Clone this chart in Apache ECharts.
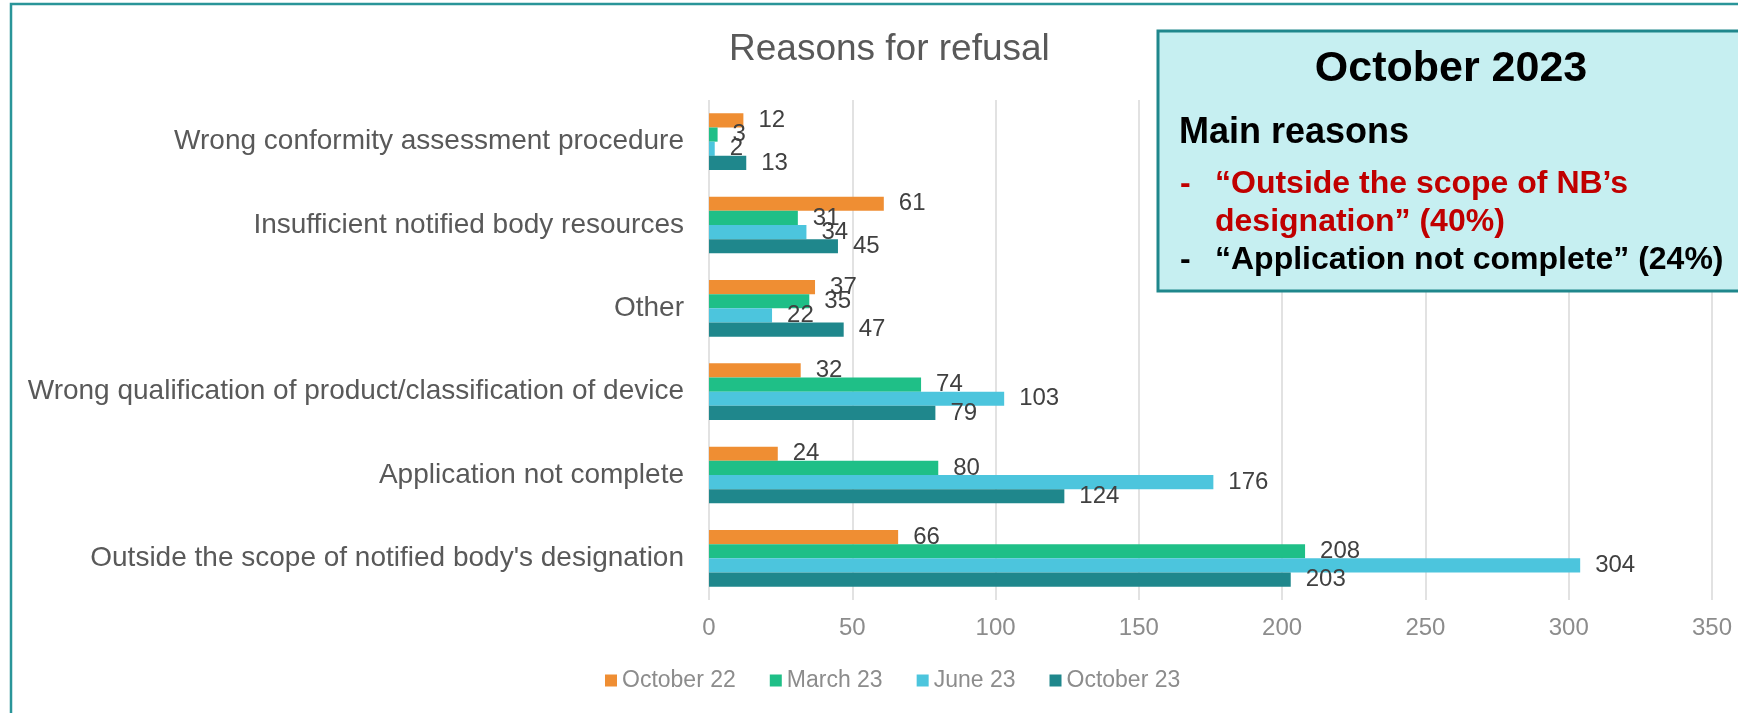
<!DOCTYPE html>
<html>
<head>
<meta charset="utf-8">
<title>Reasons for refusal</title>
<script src="https://cdn.jsdelivr.net/npm/echarts@6/dist/echarts.min.js"></script>
<style>
  html, body { margin: 0; padding: 0; background: #fff; }
  #chart { width: 1738px; height: 713px; }
</style>
</head>
<body>
<div id="chart"></div>
<script>
// categories, bottom to top (as the y axis draws them)
const categories = [
  "Outside the scope of notified body's designation",
  'Application not complete',
  'Wrong qualification of product/classification of device',
  'Other',
  'Insufficient notified body resources',
  'Wrong conformity assessment procedure'
]

const seriesNames = ['October 22', 'March 23', 'June 23', 'October 23']
const seriesColors = ['#EF8E33', '#1FBF87', '#4CC5DD', '#1F878C']

// values in the same order as categories
const oct22 = [66, 24, 32, 37, 61, 12]
const mar23 = [208, 80, 74, 35, 31, 3]
const jun23 = [304, 176, 103, 22, 34, 2]
const oct23 = [203, 124, 79, 47, 45, 13]

const xTicks = { min: 0, max: 350, interval: 50 }

const boxTitle = 'October 2023'
const boxHeading = 'Main reasons'
const boxLines = [
  { text: '\u201COutside the scope of NB\u2019s', dash: true, color: '#C00000' },
  { text: 'designation\u201D (40%)', dash: false, color: '#C00000' },
  { text: '\u201CApplication not complete\u201D (24%)', dash: true, color: '#000000' }
]

const chart = echarts.init(document.getElementById('chart'))
const font = 'Liberation Sans, Arial, sans-serif'

const makeSeries = (name, data, color) => ({
  name: name,
  type: 'bar',
  data: data,
  barGap: 0,
  barCategoryGap: '32%',
  itemStyle: { color: color },
  label: {
    show: true,
    position: 'right',
    distance: 15,
    color: '#404040',
    fontSize: 24,
    fontFamily: font
  }
})

const allValues = [oct22, mar23, jun23, oct23]
const series = seriesNames.map((n, i) => makeSeries(n, allValues[i], seriesColors[i]))

// annotation box drawn on top
const lineY = [184, 222, 260]
const boxTexts = []
boxLines.forEach((l, i) => {
  if (l.dash) {
    boxTexts.push({
      type: 'text', z: 101,
      style: { text: '-', x: 1180, y: lineY[i], fill: l.color, font: 'bold 32px ' + font, verticalAlign: 'middle' }
    })
  }
  boxTexts.push({
    type: 'text', z: 101,
    style: { text: l.text, x: 1215, y: lineY[i], fill: l.color, font: 'bold 32px ' + font, verticalAlign: 'middle' }
  })
})

const option = {
  animation: false,
  backgroundColor: '#fff',
  textStyle: { fontFamily: font },
  title: {
    text: 'Reasons for refusal',
    left: 724,
    top: 26,
    textStyle: { color: '#595959', fontSize: 37, fontWeight: 'normal', fontFamily: font }
  },
  legend: {
    data: seriesNames,
    left: 600,
    top: 664,
    itemWidth: 12,
    itemHeight: 12,
    itemGap: 34,
    icon: 'rect',
    textStyle: { color: '#8C8C8C', fontSize: 23, fontFamily: font }
  },
  grid: { left: 709, right: 26, top: 100, bottom: 113, containLabel: false },
  xAxis: {
    type: 'value',
    min: xTicks.min,
    max: xTicks.max,
    interval: xTicks.interval,
    axisLine: { show: false },
    axisTick: { show: false },
    splitLine: { lineStyle: { color: '#D9D9D9', width: 1.5 } },
    axisLabel: { color: '#8C8C8C', fontSize: 24, margin: 16, fontFamily: font }
  },
  yAxis: {
    type: 'category',
    data: categories,
    axisLine: { show: false },
    axisTick: { show: false },
    axisLabel: { color: '#595959', fontSize: 28, margin: 25, fontFamily: font }
  },
  series: series,
  graphic: [
    {
      type: 'rect', z: 99, silent: true,
      shape: { x: 11, y: 4, width: 2000, height: 2000 },
      style: { fill: 'none', stroke: '#2A9599', lineWidth: 2.5 }
    },
    {
      type: 'rect', z: 100,
      shape: { x: 1158, y: 31, width: 700, height: 260 },
      style: { fill: '#C6EFF1', stroke: '#1F878C', lineWidth: 3 }
    },
    {
      type: 'text', z: 101,
      style: { text: boxTitle, x: 1451, y: 69, fill: '#000', font: 'bold 43px ' + font, align: 'center', verticalAlign: 'middle' }
    },
    {
      type: 'text', z: 101,
      style: { text: boxHeading, x: 1179, y: 133, fill: '#000', font: 'bold 36px ' + font, verticalAlign: 'middle' }
    }
  ].concat(boxTexts)
}

chart.setOption(option)
</script>
</body>
</html>
